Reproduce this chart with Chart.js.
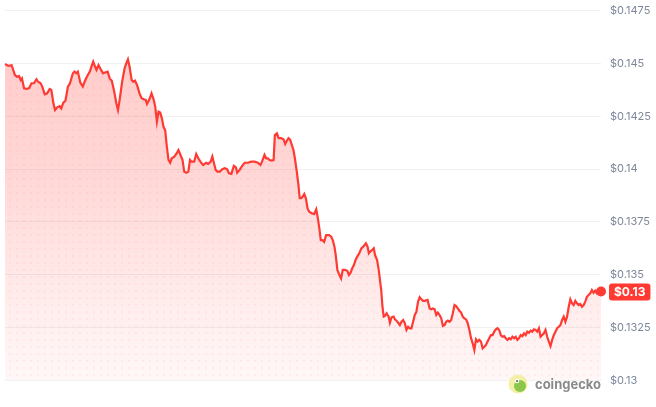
<!DOCTYPE html>
<html>
<head>
<meta charset="utf-8">
<script src="https://cdn.jsdelivr.net/npm/chart.js@4.4.1/dist/chart.umd.min.js"></script>
<style>
  html, body { margin: 0; padding: 0; background: #fff; }
  #wrap { width: 656px; height: 407px; }
</style>
</head>
<body>
<div id="wrap"><canvas id="grafico" width="656" height="407"></canvas></div>
<script>
// minutes since start of the 24h window
const minutos = [
  0,8,16,24,29,34,38,41,46,52,58,64,70,76,80,86,90,96,102,108,112,117,121,126,132,136,141,146,152,157,
  164,168,172,176,182,188,194,200,205,210,213,217,221,226,232,237,
  240,248,253,258,264,269,273,277,283,289,293,297,301,306,310,314,319,325,330,335,340,343,349,354,359,
  363,367,371,375,379,383,387,391,395,399,403,409,415,419,425,429,433,438,443,447,451,457,462,467,474,479,
  486,491,497,501,505,509,513,519,525,531,537,541,547,553,558,561,567,573,579,587,595,603,611,617,621,
  627,631,635,639,645,649,652,657,661,667,673,677,681,685,689,693,697,701,705,709,712,716,719,
  723,727,731,735,741,747,752,756,760,763,767,771,776,783,788,792,796,799,803,807,812,816,821,827,831,
  835,839,843,847,851,856,861,867,872,876,879,882,887,891,894,899,903,906,909,912,915,918,922,927,930,
  934,939,942,946,950,954,
  958,962,966,970,974,978,982,986,990,994,998,1002,1006,1010,1014,1021,1026,1030,1034,1038,
  1042,1046,1050,1054,1058,1062,1066,1070,1074,1078,1082,1086,1090,1094,1098,1102,1106,1110,1114,1118,
  1122,1126,1130,1134,1138,1142,1146,1150,1154,1158,1162,1166,1170,1174,1178,1182,1186,1190,1194,1198,
  1202,1206,1210,1214,1218,1222,1226,1230,1234,1238,1242,1246,1250,1254,1258,1262,1266,1270,1274,1278,
  1282,1286,1290,1294,1298,1302,1306,1310,1314,1318,1322,1326,1330,1334,1338,1342,1346,1350,1354,1358,
  1362,1366,1370,1374,1378,1382,1386,1390,1394,1398,1402,1406,1410,1414,1418,1422,1426,1430,1434,1438,1440
];

const precos = [
  0.14497,0.14488,0.14491,0.14445,0.14437,0.14440,0.14421,0.14429,0.14382,0.14379,
  0.14382,0.14406,0.14406,0.14425,0.14413,0.14406,0.14390,0.14354,0.14358,0.14379,
  0.14374,0.14311,0.14279,0.14292,0.14298,0.14287,0.14314,0.14323,0.14390,0.14406,
  0.14453,0.14461,0.14453,0.14461,0.14409,0.14390,0.14421,0.14445,0.14461,0.14492,
  0.14508,0.14488,0.14469,0.14492,0.14469,0.14453,
  0.14456,0.14461,0.14429,0.14418,0.14366,0.14311,0.14279,0.14327,0.14413,0.14477,
  0.14500,0.14519,0.14484,0.14421,0.14413,0.14418,0.14398,0.14358,0.14335,0.14330,
  0.14327,0.14308,0.14330,0.14358,0.14330,0.14295,0.14224,0.14271,0.14267,0.14240,
  0.14200,0.14185,0.14106,0.14043,0.14030,0.14051,0.14059,0.14075,0.14090,0.14062,
  0.14043,0.13988,0.13983,0.13988,0.14043,0.14035,0.14035,0.14071,0.14051,0.14030,
  0.14019,
  0.14030,0.14024,0.14035,0.14059,0.14027,0.13996,0.13988,0.13988,0.13999,0.14004,
  0.13999,0.13980,0.13977,0.14015,0.14008,0.13983,0.13996,0.14015,0.14030,0.14030,
  0.14035,0.14035,0.14030,0.14019,0.14035,0.14067,0.14051,0.14051,0.14043,0.14040,
  0.14043,0.14161,0.14169,0.14146,0.14146,0.14141,0.14119,0.14134,0.14146,0.14138,
  0.14114,0.14090,0.14043,0.13988,0.13925,0.13862,0.13862,0.13869,
  0.13882,0.13862,0.13814,0.13798,0.13791,0.13787,0.13810,0.13767,0.13712,0.13664,
  0.13664,0.13656,0.13688,0.13688,0.13680,0.13664,0.13633,0.13594,0.13523,0.13504,
  0.13483,0.13523,0.13523,0.13519,0.13499,0.13510,0.13531,0.13546,0.13570,0.13586,
  0.13602,0.13625,0.13636,0.13649,0.13633,0.13602,0.13609,0.13617,0.13625,0.13594,
  0.13570,0.13523,0.13475,0.13428,0.13349,0.13302,0.13305,0.13318,0.13302,0.13273,
  0.13299,0.13302,0.13289,0.13283,0.13273,0.13262,
  0.13278,0.13286,0.13271,0.13239,0.13254,0.13247,0.13247,0.13278,0.13310,0.13325,
  0.13373,0.13394,0.13384,0.13377,0.13377,0.13381,0.13341,0.13337,0.13341,0.13337,
  0.13310,0.13321,0.13310,0.13294,0.13258,0.13262,0.13278,0.13283,0.13278,0.13286,
  0.13318,0.13357,0.13352,0.13341,0.13330,0.13321,0.13302,0.13294,0.13289,0.13271,
  0.13239,0.13200,0.13176,0.13144,0.13195,0.13184,0.13192,0.13184,0.13152,0.13160,
  0.13168,0.13184,0.13200,0.13215,0.13215,0.13231,0.13242,0.13247,0.13239,0.13215,
  0.13207,0.13210,0.13200,0.13192,0.13200,0.13195,0.13207,0.13200,0.13207,0.13192,
  0.13200,0.13215,0.13210,0.13223,0.13215,0.13231,0.13226,0.13236,0.13231,0.13242,
  0.13239,0.13231,0.13247,0.13207,0.13215,0.13223,0.13239,0.13207,0.13184,0.13163,
  0.13192,0.13215,0.13231,0.13247,0.13254,0.13262,0.13286,0.13302,0.13278,0.13302,
  0.13349,0.13384,0.13365,0.13357,0.13377,0.13365,0.13357,0.13362,0.13349,0.13357,
  0.13373,0.13396,0.13404,0.13412,0.13428,0.13415,0.13425,0.13412,0.13415,0.13420,
  0.13421
];

const ticksY = [0.13, 0.1325, 0.135, 0.1375, 0.14, 0.1425, 0.145, 0.1475];
const precoAtual = "$0.13";
const marca = "coingecko";

const vermelho = "#ff3a33";
let padrao = null;

function criarPreenchimento(ctx, area) {
  const c = document.createElement("canvas");
  c.width = 7;
  c.height = 407;
  const g = c.getContext("2d");
  const grad = g.createLinearGradient(0, area.top, 0, area.bottom);
  grad.addColorStop(0, "rgba(255,58,51,0.28)");
  grad.addColorStop(0.45, "rgba(255,58,51,0.2)");
  grad.addColorStop(0.8, "rgba(255,58,51,0.09)");
  grad.addColorStop(1, "rgba(255,58,51,0.04)");
  g.fillStyle = grad;
  g.fillRect(0, 0, 7, 407);
  g.fillStyle = "rgba(255,58,51,0.06)";
  for (let y = 3; y < 407; y += 7) g.fillRect(2, y, 2, 2);
  return ctx.createPattern(c, "repeat");
}

const extras = {
  id: "extras",
  afterDraw(chart) {
    const ctx = chart.ctx;
    const area = chart.chartArea;
    const yScale = chart.scales.y;
    const yUlt = yScale.getPixelForValue(precos[precos.length - 1]);

    // etiqueta do preco atual
    ctx.save();
    ctx.font = "bold 12px Inter";
    const w = ctx.measureText(precoAtual).width + 10;
    const x0 = area.right + 8;
    ctx.fillStyle = vermelho;
    ctx.beginPath();
    ctx.roundRect(x0, yUlt - 8, w, 17, 3);
    ctx.fill();
    ctx.fillStyle = "#fff";
    ctx.textAlign = "center";
    ctx.textBaseline = "middle";
    ctx.fillText(precoAtual, x0 + w / 2, yUlt + 0.5);

    // marca d'agua
    const cx = 518, cy = 384;
    ctx.fillStyle = "#f3efa6";
    ctx.beginPath();
    ctx.arc(cx, cy, 9.5, 0, Math.PI * 2);
    ctx.fill();
    ctx.fillStyle = "#8cc64a";
    ctx.beginPath();
    ctx.arc(cx + 2, cy + 2, 6, 0, Math.PI * 2);
    ctx.fill();
    ctx.fillStyle = "#fff";
    ctx.beginPath();
    ctx.arc(cx - 1, cy - 3, 2.2, 0, Math.PI * 2);
    ctx.fill();
    ctx.fillStyle = "#555";
    ctx.beginPath();
    ctx.arc(cx - 1, cy - 3, 1, 0, Math.PI * 2);
    ctx.fill();

    ctx.fillStyle = "#8a8a8a";
    ctx.font = "bold 13px Inter";
    ctx.textAlign = "left";
    ctx.textBaseline = "alphabetic";
    ctx.fillText(marca, 535, 389);
    ctx.restore();
  }
};

const pontos = minutos.map((m, i) => ({ x: m, y: precos[i] }));

new Chart(document.getElementById("grafico").getContext("2d"), {
  type: "line",
  data: {
    datasets: [{
      data: pontos,
      borderColor: vermelho,
      borderWidth: 2.2,
      tension: 0,
      fill: "start",
      clip: false,
      backgroundColor: (c) => {
        const area = c.chart.chartArea;
        if (!area) return "rgba(255,58,51,0.15)";
        if (!padrao) padrao = criarPreenchimento(c.chart.ctx, area);
        return padrao;
      },
      pointRadius: (c) => c.dataIndex === precos.length - 1 ? 5 : 0,
      pointBackgroundColor: vermelho,
      pointBorderWidth: 0,
      pointHoverRadius: 0
    }]
  },
  options: {
    responsive: false,
    animation: false,
    layout: { padding: { top: 10.5, bottom: 26.5, left: 0, right: 0 } },
    plugins: {
      legend: { display: false },
      tooltip: { enabled: false }
    },
    scales: {
      x: {
        type: "linear",
        min: 0,
        max: 1440,
        display: false
      },
      y: {
        position: "right",
        min: 0.13,
        max: 0.1475,
        afterBuildTicks: (s) => { s.ticks = ticksY.map(v => ({ value: v })); },
        afterFit: (s) => {
          s.width = 55;
          s.paddingTop = 0;
          s.paddingBottom = 0;
        },
        grid: { color: "#f1f1f3", drawTicks: false },
        border: { display: false },
        ticks: {
          color: "#7d8799",
          padding: 9,
          font: { family: "Inter", size: 11 },
          callback: (v) => "$" + v
        }
      }
    }
  },
  plugins: [extras]
});
</script>
</body>
</html>
